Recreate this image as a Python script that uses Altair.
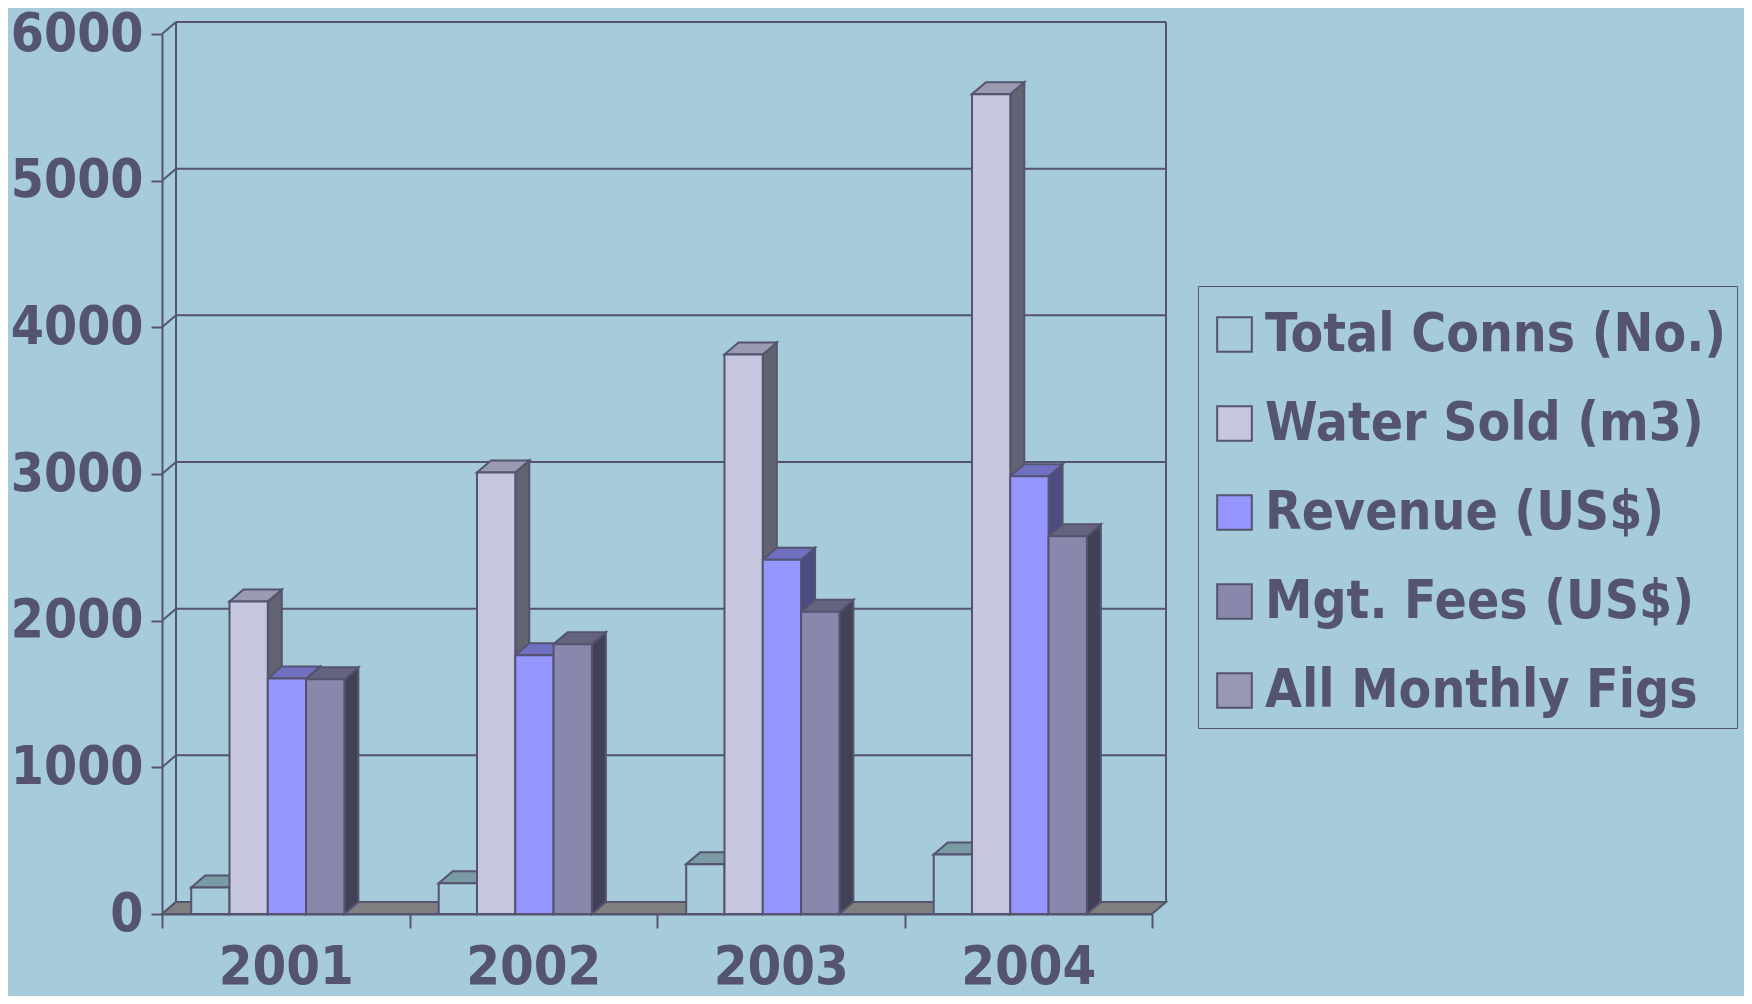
import json
import altair as alt
import pandas as pd

# ---- data ----
years = ["2001", "2002", "2003", "2004"]
series = ["Total Conns (No.)", "Water Sold (m3)", "Revenue (US$)", "Mgt. Fees (US$)", "All Monthly Figs"]
total_conns = [180, 210, 340, 405]
water_sold = [2130, 3010, 3815, 5590]
revenue = [1605, 1765, 2415, 2985]
mgt_fees = [1600, 1840, 2060, 2575]
all_monthly = [0, 0, 0, 0]
y_ticks = [0, 1000, 2000, 3000, 4000, 5000, 6000]

series_values = [total_conns, water_sold, revenue, mgt_fees, all_monthly]

# ---- styles ----
BG = "#A6CBDA"
LINE = "#545470"
FONT = "'DejaVu Sans Condensed', 'DejaVu Sans', sans-serif"
front_colors = ["#A6CBDA", "#C6C6DF", "#9696FF", "#8888AC", "#9898B4"]
top_colors = ["#7A9AA4", "#9A9AB0", "#7070C0", "#646480", "#78789A"]
side_colors = ["#5A7A84", "#626270", "#4C4C80", "#424256", "#5A5A78"]
FLOOR = "#808080"

W, H = 990, 880
YMAX = 6000
GROUP_PAD = 0.118          # offset of the first bar inside a year slot
BAR_W = 0.1547             # bar width in year-slot units
DX = 14 / (W / len(years))  # 3-D depth, x (data units)
DY = 12 / (H / YMAX)        # 3-D depth, y (data units)

# ---- geometry tables built from the data ----
front_rows, top_rows, side_rows = [], [], []
for j, (name, vals) in enumerate(zip(series, series_values)):
    for i, (yr, v) in enumerate(zip(years, vals)):
        x0 = i + GROUP_PAD + j * BAR_W
        x1 = x0 + BAR_W
        bid = f"{yr}-{j}"
        front_rows.append(dict(id=bid, series=name, year=yr, value=v, x0=x0, x1=x1, base=0))
        if v <= 0:
            continue
        for x, lo, hi in [(x0, v, v), (x0 + DX, v, v + DY), (x1, v, v + DY), (x1 + DX, v + DY, v + DY)]:
            top_rows.append(dict(id=bid, series=name, x=x, lo=lo, hi=hi))
        for x, lo, hi in [(x1, 0, v), (x1 + DX, DY, v + DY)]:
            side_rows.append(dict(id=bid, series=name, x=x, lo=lo, hi=hi))

front_df = pd.DataFrame(front_rows)
top_df = pd.DataFrame(top_rows)
side_df = pd.DataFrame(side_rows)

n = len(years)
floor_df = pd.DataFrame(dict(x=[0, DX, n, n + DX], lo=[0, 0, 0, DY], hi=[0, DY, DY, DY]))
grid_df = pd.DataFrame(dict(y=[t + DY for t in y_ticks[1:]], x0=DX, x1=n + DX))
diag_df = pd.DataFrame(dict(x0=0, x1=DX, y0=y_ticks, y1=[t + DY for t in y_ticks]))
wall_df = pd.DataFrame(dict(x=[DX, n + DX], y0=DY, y1=YMAX + DY))

xs = alt.Scale(domain=[0, n], nice=False, zero=False)
ys = alt.Scale(domain=[0, YMAX], nice=False)

x_axis = alt.Axis(
    values=list(range(n + 1)), tickSize=14, tickWidth=2, tickColor=LINE,
    domainColor=LINE, domainWidth=2, grid=False, title=None,
    labelExpr=f"{json.dumps(years)}[datum.value] || ''",
    labelOffset=W / n / 2, labelPadding=12, labelBaseline="top",
    labelFlush=False, labelOverlap=False,
    labelFont=FONT, labelFontSize=54, labelFontWeight="bold", labelColor=LINE,
)
y_axis = alt.Axis(
    values=y_ticks, format="d", tickSize=11, tickWidth=2, tickColor=LINE,
    domainColor=LINE, domainWidth=2, grid=False, title=None,
    labelPadding=8, labelFont=FONT, labelFontSize=53, labelFontWeight="bold",
    labelColor=LINE,
)


def X(f):
    return alt.X(f, type="quantitative", scale=xs, axis=x_axis)


def Y(f):
    return alt.Y(f, type="quantitative", scale=ys, axis=y_axis, stack=None)


grid = alt.Chart(grid_df).mark_rule(color=LINE, strokeWidth=2).encode(
    x=X("x0"), x2="x1", y=Y("y"))
diag = alt.Chart(diag_df).mark_rule(color=LINE, strokeWidth=2).encode(
    x=X("x0"), x2="x1", y=Y("y0"), y2="y1")
wall = alt.Chart(wall_df).mark_rule(color=LINE, strokeWidth=2).encode(
    x=X("x"), y=Y("y0"), y2="y1")
floor = alt.Chart(floor_df).mark_area(fill=FLOOR, stroke=LINE, strokeWidth=2, opacity=1).encode(
    x=X("x"), y=Y("hi"), y2="lo")

sides = alt.Chart(side_df).mark_area(stroke=LINE, strokeWidth=2, opacity=1).encode(
    x=X("x"), y=Y("hi"), y2="lo", detail="id:N",
    fill=alt.Fill("series:N", scale=alt.Scale(domain=series, range=side_colors), legend=None))
tops = alt.Chart(top_df).mark_area(stroke=LINE, strokeWidth=2, opacity=1).encode(
    x=X("x"), y=Y("hi"), y2="lo", detail="id:N",
    fill=alt.Fill("series:N", scale=alt.Scale(domain=series, range=top_colors), legend=None))
fronts = alt.Chart(front_df).mark_rect(stroke=LINE, strokeWidth=2, opacity=1).encode(
    x=X("x0"), x2="x1", y=Y("value"), y2="base",
    fill=alt.Fill("series:N", scale=alt.Scale(domain=series, range=front_colors),
                  legend=alt.Legend(
                      title=" ", titleFontSize=10, titlePadding=2,
                      orient="none", legendX=1036, legendY=252,
                      symbolType="square", symbolSize=1200, symbolStrokeColor=LINE,
                      symbolStrokeWidth=2, symbolOpacity=1,
                      labelFont=FONT, labelFontSize=53, labelFontWeight="bold",
                      labelColor=LINE, labelLimit=0, labelOffset=4,
                      rowPadding=35, padding=10, strokeColor=LINE,
                  )),
    tooltip=["year:N", "series:N", "value:Q"],
)

chart = alt.layer(grid, diag, wall, floor, sides, tops, fronts).resolve_scale(
    fill="independent"
).properties(
    width=W, height=H,
    padding={"left": 154, "top": 26, "right": 592, "bottom": 82},
    autosize=alt.AutoSizeParams(type="none"),
).configure(background=BG).configure_view(stroke=None)

chart.save("out.html", embed_options={"renderer": "svg", "actions": False})
